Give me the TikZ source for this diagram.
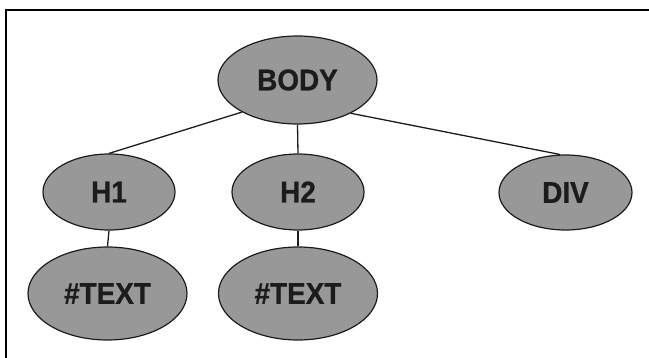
\documentclass[tikz,border=0pt]{standalone}
\usepackage{fontspec}
\usetikzlibrary{shapes.geometric}
\newfontfamily\nodefont{Liberation Sans}[FakeStretch=0.93,FakeBold=0.8]
\definecolor{nodegray}{RGB}{152,152,152}
\definecolor{inkdark}{RGB}{28,28,28}
\begin{document}
\begin{tikzpicture}[x=1pt,y=-1pt,
  treenode/.style={ellipse, draw=inkdark, line width=1.2pt, fill=nodegray,
    inner sep=0pt, text=inkdark,
    font=\nodefont\bfseries\fontsize{30}{30}\selectfont},
  edge/.style={draw=inkdark, line width=1.3pt},
  frameline/.style={draw=black, line width=2.6pt}]
  \useasboundingbox (0,0) rectangle (649,358);
  % frame along the top and left edges
  \draw[frameline] (6,358) -- (6,10) -- (649,10);

  % tree nodes
  \node[treenode, minimum width=159pt, minimum height=88pt] (body) at (297.5,80) {BODY};
  \node[treenode, minimum width=132pt, minimum height=76pt] (h1)   at (109,192) {H1};
  \node[treenode, minimum width=132pt, minimum height=76pt] (h2)   at (298,192) {H2};
  \node[treenode, minimum width=133pt, minimum height=75pt] (div)  at (565.5,192.5) {DIV};
  \node[treenode, minimum width=159pt, minimum height=93pt] (txta) at (107.5,293.5) {\#TEXT};
  \node[treenode, minimum width=159pt, minimum height=93pt] (txtb) at (298,293.5) {\#TEXT};

  % connectors
  \draw[edge] (body.-150) -- (h1.north);
  \draw[edge] (body.south) -- (h2.north);
  \draw[edge] (body.-32) -- (div.98);
  \draw[edge] (h1.south) -- (txta.north);
  \draw[edge] (h2.south) -- (txtb.north);
\end{tikzpicture}
\end{document}
